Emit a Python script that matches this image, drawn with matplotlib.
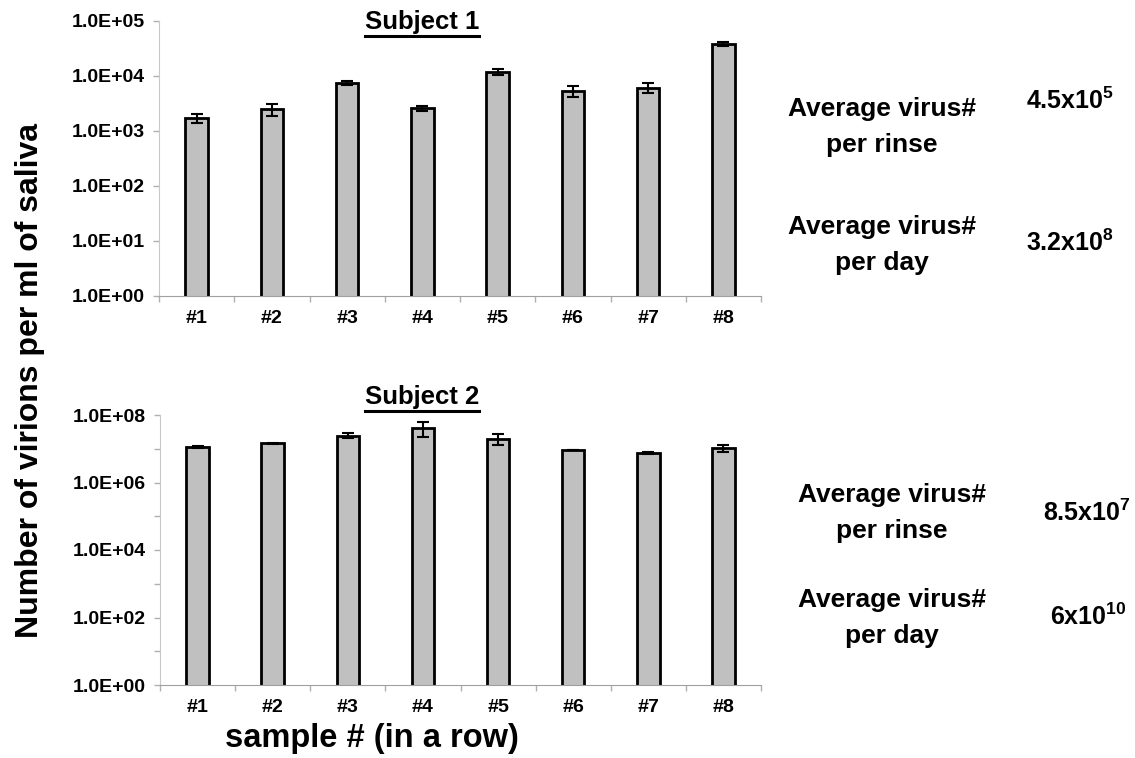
import numpy as np
import matplotlib
matplotlib.use("Agg")
import matplotlib.pyplot as plt
from matplotlib.ticker import FixedLocator, NullLocator, NullFormatter
from matplotlib.lines import Line2D

plt.rcParams['font.family'] = ['Liberation Sans', 'DejaVu Sans']
plt.rcParams['font.weight'] = 'bold'
plt.rcParams['mathtext.fontset'] = 'custom'
plt.rcParams['mathtext.rm'] = 'Liberation Sans:bold'
plt.rcParams['mathtext.it'] = 'Liberation Sans:bold'
plt.rcParams['mathtext.bf'] = 'Liberation Sans:bold'

samples = ['#1', '#2', '#3', '#4', '#5', '#6', '#7', '#8']

# virions per ml, mean and error per rinse sample
subj1 = [1700, 2470, 7400, 2570, 12000, 5400, 6150, 38000]
subj1_err = [300, 600, 600, 280, 1500, 1200, 1300, 3000]
subj2 = [1.12e7, 1.45e7, 2.45e7, 4.2e7, 1.95e7, 9.1e6, 7.3e6, 1.07e7]
subj2_err = [5e5, 6e5, 4e6, 2e7, 7e6, 0, 5e5, 2.5e6]

ticks1 = [1e0, 1e1, 1e2, 1e3, 1e4, 1e5]
ticklabels1 = ['1.0E+00', '1.0E+01', '1.0E+02', '1.0E+03', '1.0E+04', '1.0E+05']
ticks2 = [1e0, 1e2, 1e4, 1e6, 1e8]
ticklabels2 = ['1.0E+00', '1.0E+02', '1.0E+04', '1.0E+06', '1.0E+08']
minor2 = [1e1, 1e3, 1e5, 1e7]

summary_labels = ['Average virus#\nper rinse', 'Average virus#\nper day']
summary1 = ['4.5x10$^{5}$', '3.2x10$^{8}$']
summary2 = ['8.5x10$^{7}$', '6x10$^{10}$']

W, H = 1135, 758
fig = plt.figure(figsize=(W / 100, H / 100), dpi=100)

def px_rect(left, top, right, bottom):
    return [left / W, 1 - bottom / H, (right - left) / W, (bottom - top) / H]

ax1 = fig.add_axes(px_rect(159, 21, 761, 296))
ax2 = fig.add_axes(px_rect(160, 415, 761, 685))

def draw_panel(ax, vals, errs, ylim, majors, majlabels, minors):
    x = np.arange(len(samples))
    ax.bar(x, vals, width=0.3, color='#c0c0c0', edgecolor='black', linewidth=2,
           yerr=errs, error_kw=dict(ecolor='black', elinewidth=1.5, capsize=4, capthick=1.5),
           zorder=2)
    ax.set_yscale('log')
    ax.set_ylim(*ylim)
    ax.set_xlim(-0.5, len(samples) - 0.5)
    ax.yaxis.set_major_locator(FixedLocator(majors))
    ax.set_yticklabels(majlabels)
    if minors:
        ax.yaxis.set_minor_locator(FixedLocator(minors))
    else:
        ax.yaxis.set_minor_locator(NullLocator())
    ax.yaxis.set_minor_formatter(NullFormatter())
    ax.set_xticks(x)
    ax.set_xticklabels(samples)
    ax.set_xticks(np.arange(len(samples) + 1) - 0.5, minor=True)
    for s in ['top', 'right']:
        ax.spines[s].set_visible(False)
    ax.spines['left'].set_color('#c8c8c8')
    ax.spines['bottom'].set_color('#a0a0a0')
    ax.tick_params(axis='y', which='both', length=4, color='#b0b0b0', width=1,
                   labelsize=14, pad=6)
    ax.tick_params(axis='x', which='major', length=0, labelsize=14, pad=10)
    ax.tick_params(axis='x', which='minor', length=4, color='#b0b0b0', width=1)
    for lab in ax.get_xticklabels() + ax.get_yticklabels():
        lab.set_fontweight('bold')

draw_panel(ax1, subj1, subj1_err, (1, 1e5), ticks1, ticklabels1, None)
draw_panel(ax2, subj2, subj2_err, (1, 1e8), ticks2, ticklabels2, minor2)

# underlined panel titles
titles = [fig.text(422 / W, 1 - 22 / H, 'Subject 1', ha='center', va='center',
                   fontsize=18.5, fontweight='bold'),
          fig.text(422 / W, 1 - 397 / H, 'Subject 2', ha='center', va='center',
                   fontsize=18.5, fontweight='bold')]
fig.canvas.draw()
inv = fig.transFigure.inverted()
for t in titles:
    bb = t.get_window_extent()
    (x0, y0), (x1, _) = inv.transform([[bb.x0, bb.y0], [bb.x1, bb.y1]])
    fig.add_artist(Line2D([x0, x1], [y0 - 0.002, y0 - 0.002], color='black',
                          linewidth=2.2, transform=fig.transFigure))

fig.text(30 / W, 1 - 380 / H, 'Number of virions per ml of saliva', rotation=90,
         ha='center', va='center', fontsize=23, fontweight='bold')
fig.text(372 / W, 1 - 738 / H, 'sample # (in a row)', ha='center', va='center',
         fontsize=23.5, fontweight='bold')

# summary numbers beside each panel
for lab, val, ly, vy in zip(summary_labels, summary1, [127, 245], [101, 243]):
    fig.text(882 / W, 1 - ly / H, lab, ha='center', va='center', fontsize=19,
             fontweight='bold', linespacing=1.65)
    fig.text(1026 / W, 1 - vy / H, val, ha='left', va='center', fontsize=18,
             fontweight='bold')
for lab, val, ly, vy in zip(summary_labels, summary2, [513, 618], [513, 617]):
    fig.text(892 / W, 1 - ly / H, lab, ha='center', va='center', fontsize=19,
             fontweight='bold', linespacing=1.65)
    fig.text(1043 / W if '8.5' in val else 1050 / W, 1 - vy / H, val, ha='left',
             va='center', fontsize=18, fontweight='bold')

fig.savefig('out.png', dpi=100, facecolor='white')
